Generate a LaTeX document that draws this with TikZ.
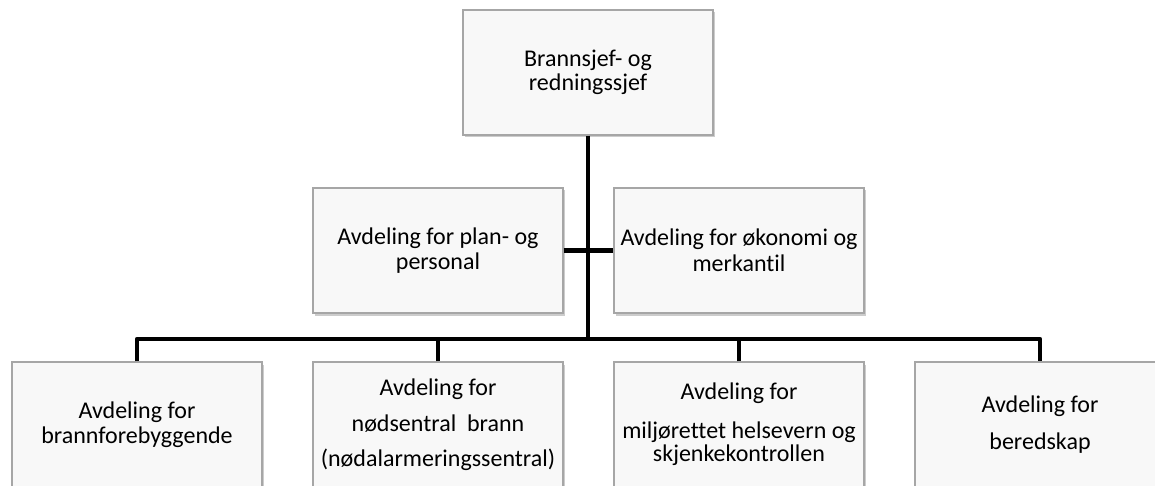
\documentclass[tikz,border=0pt]{standalone}
\usepackage{fontspec}
\setmainfont{Carlito}[Ligatures=NoCommon]
\usepackage{tikz}
\usetikzlibrary{positioning, shadows}
\definecolor{oLine}{HTML}{A6A6A6}
\definecolor{oFill}{HTML}{F8F8F8}
\definecolor{oShade}{HTML}{808080}
\tikzset{
  orgBox/.style={draw=oLine, fill=oFill, line width=1.2pt, text=black, align=center,
    font=\fontsize{24}{25.5}\selectfont, minimum width=250pt, minimum height=125pt, inner sep=0pt,
    drop shadow={shadow xshift=1.5pt, shadow yshift=-2.5pt, fill=oShade, opacity=0.4}},
  orgLink/.style={line width=4.8pt, line join=round, draw=black}
}

\begin{document}
\begin{tikzpicture}[x=1pt, y=-1pt]
  \useasboundingbox (0,0) rectangle (1155,486);
  \fill[white] (0,0) rectangle (1155,486);
  \clip (0,0) rectangle (1155,486);
  % top level
  \node[orgBox] (chief) at (588,72.5) {Brannsjef- og\\[-2pt]redningssjef};
  % staff units
  \node[orgBox] (plan) at (438,250.5) {Avdeling for plan- og\\personal};
  \node[orgBox] (econ) at (739,250.5) {Avdeling for økonomi og\\merkantil};
  % departments
  \node[orgBox] (prevent) at (137,424.5) {Avdeling for\\[-1pt]brannforebyggende};
  \node[orgBox] (dispatch) at (438,424.5) {Avdeling for\\[11pt]nødsentral~ brann\\[9pt](nødalarmeringssentral)};
  \node[orgBox] (health) at (739,424.5) {Avdeling for\\[13pt]miljørettet helsevern og\\[-2pt]skjenkekontrollen};
  \node[orgBox] (ready) at (1040,424.5) {Avdeling for\\[11pt]beredskap};
  \coordinate (bus) at (588,339);
  % links
  \draw[orgLink] (chief.south) -- (bus);
  \draw[orgLink] (plan.east) -- (econ.west);
  \draw[orgLink] (prevent.north) |- (bus) -| (ready.north);
  \draw[orgLink] (dispatch.north) -- (dispatch.north |- bus);
  \draw[orgLink] (health.north) -- (health.north |- bus);
\end{tikzpicture}
\end{document}
